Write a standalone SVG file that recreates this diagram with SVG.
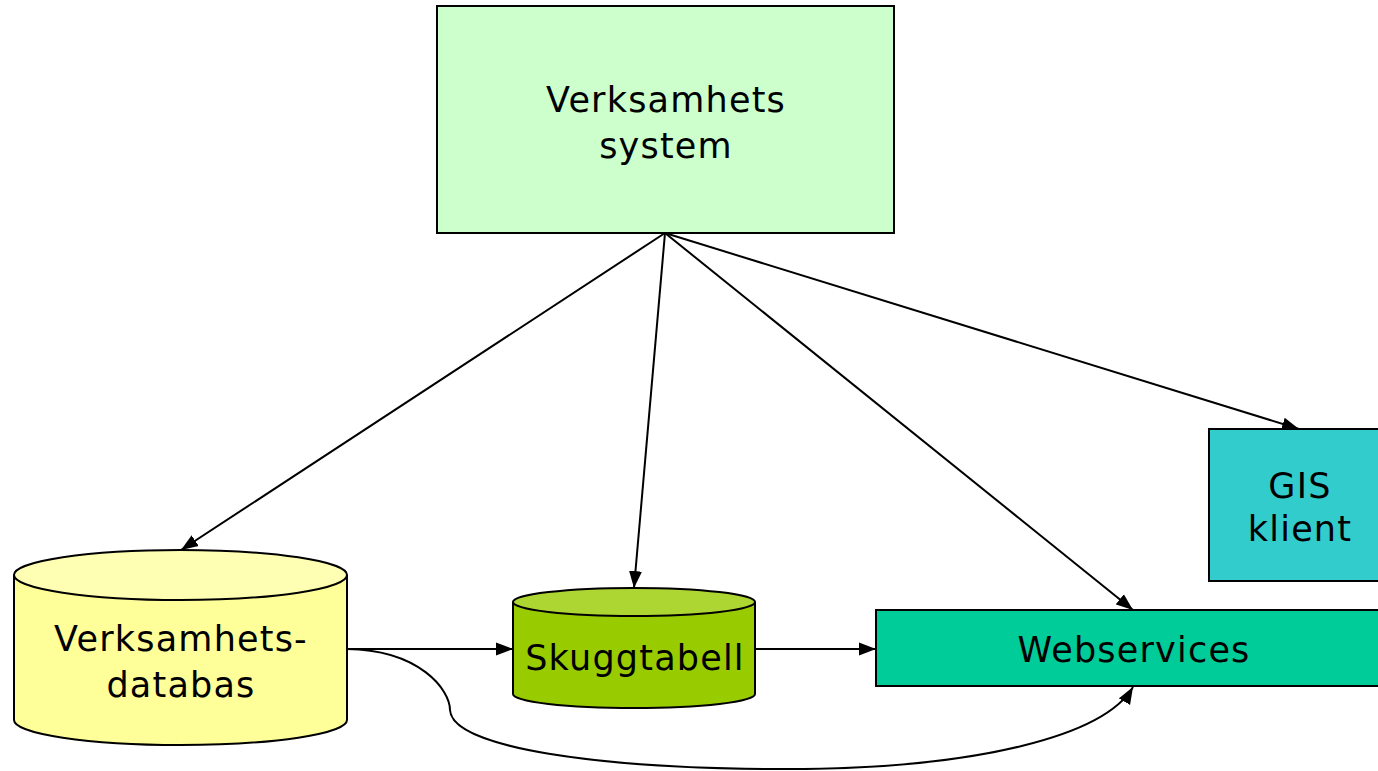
<svg xmlns="http://www.w3.org/2000/svg" width="1378" height="771" viewBox="0 0 1378 771">
<style>
.lbl{font-family:"DejaVu Sans","Liberation Sans",sans-serif;font-size:35px;fill:#000;text-anchor:middle;letter-spacing:1.2px}
.edge{fill:none;stroke:#000;stroke-width:2}
.shape{stroke:#000;stroke-width:2}
</style>
<defs>
<marker id="arr" markerUnits="userSpaceOnUse" markerWidth="20" markerHeight="14" refX="17" refY="7" orient="auto">
<path d="M0,0.5 L17,7 L0,13.5 Z" fill="#000"/>
</marker>
</defs>
<rect width="1378" height="771" fill="#fff"/>
<g id="connectors">
<line class="edge" x1="665" y1="233" x2="181" y2="550" marker-end="url(#arr)"/>
<line class="edge" x1="665" y1="233" x2="634" y2="588" marker-end="url(#arr)"/>
<line class="edge" x1="665" y1="233" x2="1133" y2="610" marker-end="url(#arr)"/>
<line class="edge" x1="665" y1="233" x2="1299" y2="429" marker-end="url(#arr)"/>
<line class="edge" x1="347" y1="649" x2="513" y2="649" marker-end="url(#arr)"/>
<line class="edge" x1="755" y1="649" x2="876" y2="649" marker-end="url(#arr)"/>
<path class="edge" d="M347,649 C420,650 450,690 450,710 C452,748 600,769 785,769 C980,769 1105,735 1133,687" marker-end="url(#arr)"/>
</g>
<g id="verksamhetssystem">
<rect class="shape" x="437" y="6" width="457" height="227" fill="#CCFFCC"/>
<text class="lbl" x="666" y="112">Verksamhets</text>
<text class="lbl" x="666" y="158">system</text>
</g>
<g id="verksamhetsdatabas">
<path class="shape" d="M14,575 L14,720 A166.5,25 0 0 0 347,720 L347,575" fill="#FFFF99"/>
<ellipse class="shape" cx="180.5" cy="575" rx="166.5" ry="25" fill="#FFFFB3"/>
<text class="lbl" x="181" y="651">Verksamhets-</text>
<text class="lbl" x="181" y="697">databas</text>
</g>
<g id="skuggtabell">
<path class="shape" d="M513,602 L513,694 A121,14 0 0 0 755,694 L755,602" fill="#99CC00"/>
<ellipse class="shape" cx="634" cy="602" rx="121" ry="14" fill="#ADD633"/>
<text class="lbl" x="635" y="670">Skuggtabell</text>
</g>
<g id="webservices">
<rect class="shape" x="876" y="610" width="510" height="76" fill="#00CC99"/>
<text class="lbl" x="1134" y="662">Webservices</text>
</g>
<g id="gisklient">
<rect class="shape" x="1209" y="429" width="180" height="152" fill="#33CCCC"/>
<text class="lbl" x="1300" y="498">GIS</text>
<text class="lbl" x="1300" y="541">klient</text>
</g>
</svg>
